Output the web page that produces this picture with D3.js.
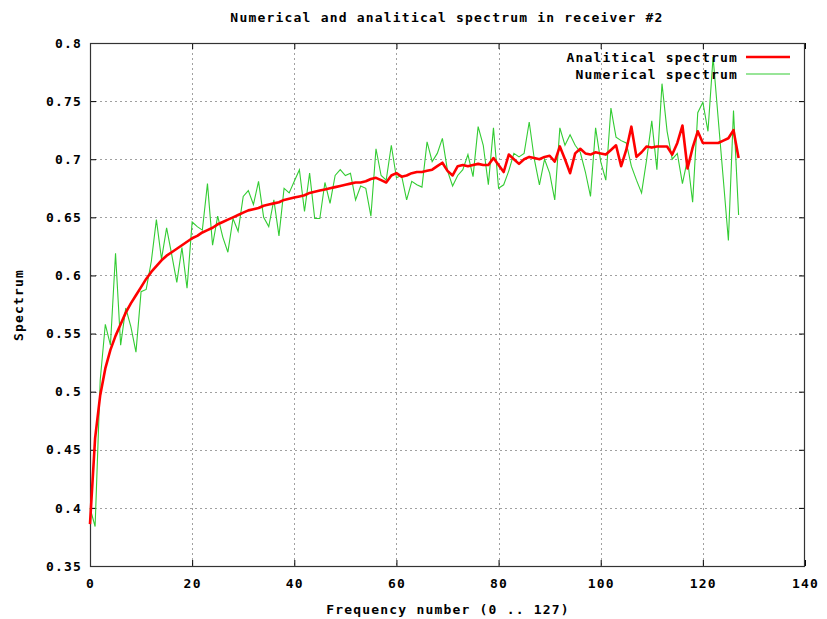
<!DOCTYPE html>
<html>
<head>
<meta charset="utf-8">
<script src="https://cdn.jsdelivr.net/npm/d3@7"></script>
<style>
  html, body { margin: 0; padding: 0; background: #ffffff; }
  svg text { font-family: "DejaVu Sans Mono", monospace; font-weight: bold; font-size: 13px; letter-spacing: 1.2px; fill: #000; }
</style>
</head>
<body>
<svg id="chart" width="827" height="619"></svg>
<script>
const title = "Numerical and analitical spectrum in receiver #2";
const xLabel = "Frequency number (0 .. 127)";
const yLabel = "Spectrum";
const seriesNames = ["Analitical spectrum", "Numerical spectrum"];
const xTicks = [0, 20, 40, 60, 80, 100, 120, 140];
const yTicks = [0.35, 0.4, 0.45, 0.5, 0.55, 0.6, 0.65, 0.7, 0.75, 0.8];

const analytical = [
  0.386, 0.460, 0.497, 0.520, 0.536, 0.548, 0.558, 0.568, 0.576, 0.583,
  0.590, 0.597, 0.603, 0.608, 0.613, 0.617, 0.620, 0.623, 0.626, 0.629,
  0.632, 0.634, 0.637, 0.639, 0.641, 0.644, 0.646, 0.648, 0.650, 0.652,
  0.654, 0.656, 0.657, 0.658, 0.660, 0.661, 0.662, 0.663, 0.665, 0.666,
  0.667, 0.668, 0.669, 0.671, 0.672, 0.673, 0.674, 0.675, 0.676, 0.677,
  0.678, 0.679, 0.680, 0.680, 0.681, 0.683, 0.684, 0.682, 0.680, 0.686,
  0.688, 0.685, 0.686, 0.688, 0.689, 0.689, 0.690, 0.691, 0.694, 0.697,
  0.690, 0.686, 0.694, 0.695, 0.694, 0.695, 0.696, 0.695, 0.695, 0.701,
  0.695, 0.689, 0.704, 0.700, 0.696, 0.700, 0.702, 0.701, 0.700, 0.702,
  0.703, 0.698, 0.711, 0.700, 0.688, 0.705, 0.709, 0.705, 0.704, 0.706,
  0.705, 0.704, 0.708, 0.712, 0.694, 0.708, 0.728, 0.702, 0.706, 0.711,
  0.710, 0.711, 0.711, 0.711, 0.704, 0.714, 0.729, 0.692, 0.710, 0.724,
  0.714, 0.714, 0.714, 0.714, 0.716, 0.718, 0.725, 0.701
];

const numerical = [
  0.400, 0.384, 0.510, 0.558, 0.540, 0.619, 0.540, 0.572, 0.556, 0.534,
  0.586, 0.588, 0.612, 0.648, 0.614, 0.641, 0.618, 0.594, 0.624, 0.589,
  0.646, 0.642, 0.639, 0.679, 0.626, 0.651, 0.633, 0.620, 0.649, 0.638,
  0.668, 0.673, 0.661, 0.681, 0.650, 0.642, 0.665, 0.634, 0.675, 0.671,
  0.681, 0.691, 0.655, 0.688, 0.649, 0.649, 0.680, 0.662, 0.686, 0.691,
  0.686, 0.688, 0.665, 0.677, 0.675, 0.651, 0.709, 0.686, 0.682, 0.712,
  0.684, 0.686, 0.665, 0.681, 0.678, 0.676, 0.715, 0.698, 0.705, 0.718,
  0.690, 0.677, 0.686, 0.691, 0.704, 0.685, 0.728, 0.712, 0.678, 0.727,
  0.675, 0.678, 0.690, 0.705, 0.702, 0.705, 0.732, 0.700, 0.678, 0.700,
  0.688, 0.665, 0.727, 0.712, 0.721, 0.712, 0.706, 0.689, 0.668, 0.727,
  0.698, 0.682, 0.744, 0.719, 0.716, 0.714, 0.694, 0.682, 0.671, 0.700,
  0.733, 0.691, 0.765, 0.724, 0.700, 0.705, 0.679, 0.700, 0.663, 0.740,
  0.749, 0.724, 0.788, 0.735, 0.683, 0.630, 0.742, 0.652
];

const colors = ["#ff0000", "#33cc33"];

const svg = d3.select("#chart");
const margin = { left: 90, right: 22, top: 43, bottom: 53 };
const W = 827, H = 619;
const x = d3.scaleLinear().domain([0, 140]).range([margin.left, W - margin.right]);
const y = d3.scaleLinear().domain([0.35, 0.8]).range([H - margin.bottom, margin.top]);
const x0 = x.range()[0], x1 = x.range()[1], y0 = y.range()[0], y1 = y.range()[1];

// grid
const grid = svg.append("g").attr("stroke", "#a0a0a0").attr("stroke-width", 1).attr("stroke-dasharray", "2,3");
grid.selectAll("line.gx").data(xTicks.filter(d => d > 0 && d < 140)).enter().append("line")
  .attr("x1", d => Math.round(x(d)) + 0.5).attr("x2", d => Math.round(x(d)) + 0.5)
  .attr("y1", y1).attr("y2", y0);
grid.selectAll("line.gy").data(yTicks.filter(d => d > 0.351 && d < 0.799)).enter().append("line")
  .attr("y1", d => Math.round(y(d)) + 0.5).attr("y2", d => Math.round(y(d)) + 0.5)
  .attr("x1", x0).attr("x2", x1);

// axes (ticks inward, mirrored)
const tl = 6;
const axB = svg.append("g").attr("transform", `translate(0,${y0})`)
  .call(d3.axisBottom(x).tickValues(xTicks).tickSizeInner(-tl).tickSizeOuter(0).tickPadding(13).tickFormat(d3.format("d")));
const axT = svg.append("g").attr("transform", `translate(0,${y1})`)
  .call(d3.axisTop(x).tickValues(xTicks).tickSizeInner(-tl).tickSizeOuter(0).tickFormat(""));
const axL = svg.append("g").attr("transform", `translate(${x0},0)`)
  .call(d3.axisLeft(y).tickValues(yTicks).tickSizeInner(-tl).tickSizeOuter(0).tickPadding(8).tickFormat(d3.format("~g")));
const axR = svg.append("g").attr("transform", `translate(${x1},0)`)
  .call(d3.axisRight(y).tickValues(yTicks).tickSizeInner(-tl).tickSizeOuter(0).tickFormat(""));
[axB, axT, axL, axR].forEach(a => {
  a.selectAll(".domain").remove();
  a.selectAll(".tick line").attr("stroke", "#000");
  a.selectAll("text").attr("font-family", null).attr("font-size", null).attr("fill", "#000");
});

// border
svg.append("rect").attr("x", x0 + 0.5).attr("y", y1 + 0.5)
  .attr("width", x1 - x0 - 1).attr("height", y0 - y1)
  .attr("fill", "none").attr("stroke", "#333").attr("stroke-width", 1.2);

// lines
const line = d3.line().x((d, i) => x(i)).y(d => y(d));
svg.append("path").datum(numerical).attr("d", line)
  .attr("fill", "none").attr("stroke", colors[1]).attr("stroke-width", 1.1);
svg.append("path").datum(analytical).attr("d", line)
  .attr("fill", "none").attr("stroke", colors[0]).attr("stroke-width", 2.6).attr("stroke-linejoin", "round");

// legend
const leg = svg.append("g");
seriesNames.forEach((name, k) => {
  const ly = 57 + k * 17;
  leg.append("text").attr("x", 738).attr("y", ly + 5).attr("text-anchor", "end").text(name);
  leg.append("line").attr("x1", 746).attr("x2", 790).attr("y1", ly).attr("y2", ly)
    .attr("stroke", colors[k]).attr("stroke-width", k === 0 ? 2.6 : 1.1);
});

// titles
svg.append("text").attr("x", 447).attr("y", 22).attr("text-anchor", "middle").text(title);
svg.append("text").attr("x", 448).attr("y", 614).attr("text-anchor", "middle").text(xLabel);
svg.append("text").attr("transform", "translate(23,305) rotate(-90)").attr("text-anchor", "middle").text(yLabel);
</script>
</body>
</html>
